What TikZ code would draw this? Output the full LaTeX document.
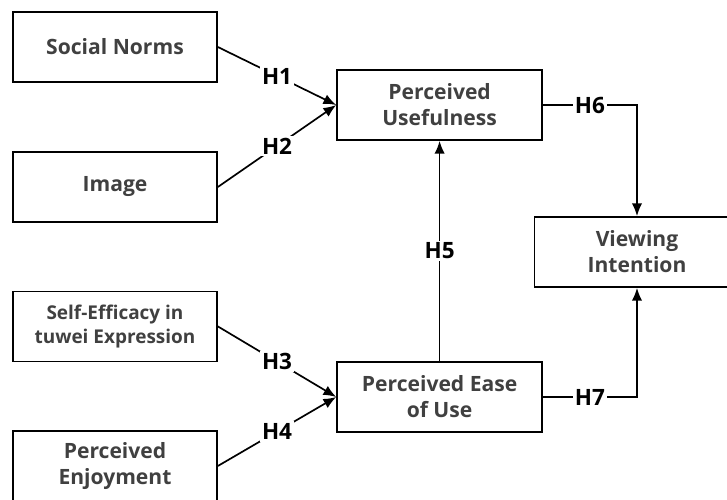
\documentclass[tikz,border=0pt]{standalone}
\usepackage{fontspec}
\setmainfont{Open Sans}
\usepackage{tikz}
\usetikzlibrary{arrows,arrows.meta,positioning}
\definecolor{boxtext}{HTML}{404040}

\begin{document}
\begin{tikzpicture}[->,
		>={Latex[length=3.2mm,width=2.6mm]},
		line width=1.2pt,
		conbox/.style={rectangle,draw,line width=1.2pt,minimum width=5.1cm,minimum height=1.75cm,
			align=center,text=boxtext,font=\fontsize{15}{18.5}\selectfont\bfseries},
		smallbox/.style={conbox,font=\fontsize{13.5}{17.5}\selectfont\bfseries},
		hyplabel/.style={fill=white,inner sep=1.5pt,text=black,font=\fontsize{16}{18}\selectfont\bfseries}]
		
		\useasboundingbox (0, 0) rectangle (18.175, -12.5);
		
		\node[conbox] (sn) at (2.875, -1.175) {Social Norms};
		\node[conbox] (img) at (2.875, -4.675) {Image};
		\node[smallbox] (se) at (2.875, -8.16) {Self-Efficacy in\\tuwei Expression};
		\node[conbox] (pe) at (2.875, -11.65) {Perceived\\Enjoyment};
		
		\node[conbox,minimum width=5.125cm] (pu) at (10.99, -2.625) {Perceived\\Usefulness};
		\node[conbox,minimum width=5.125cm] (peou) at (10.99, -9.925) {Perceived Ease\\of Use};
		\node[conbox,minimum width=5.125cm] (vi) at (15.925, -6.3) {Viewing\\Intention};
		
		\draw (sn.east) -- node[hyplabel] {H1} (pu.west);
		\draw (img.east) -- node[hyplabel] {H2} (pu.west);
		\draw (se.east) -- node[hyplabel] {H3} (peou.west);
		\draw (pe.east) -- node[hyplabel] {H4} (peou.west);
		\draw (peou.north) -- node[hyplabel] {H5} (pu.south);
		\draw (pu.east) -| node[hyplabel,pos=0.25] {H6} (vi.north);
		\draw (peou.east) -| node[hyplabel,pos=0.25] {H7} (vi.south);
		
	\end{tikzpicture}
\end{document}
